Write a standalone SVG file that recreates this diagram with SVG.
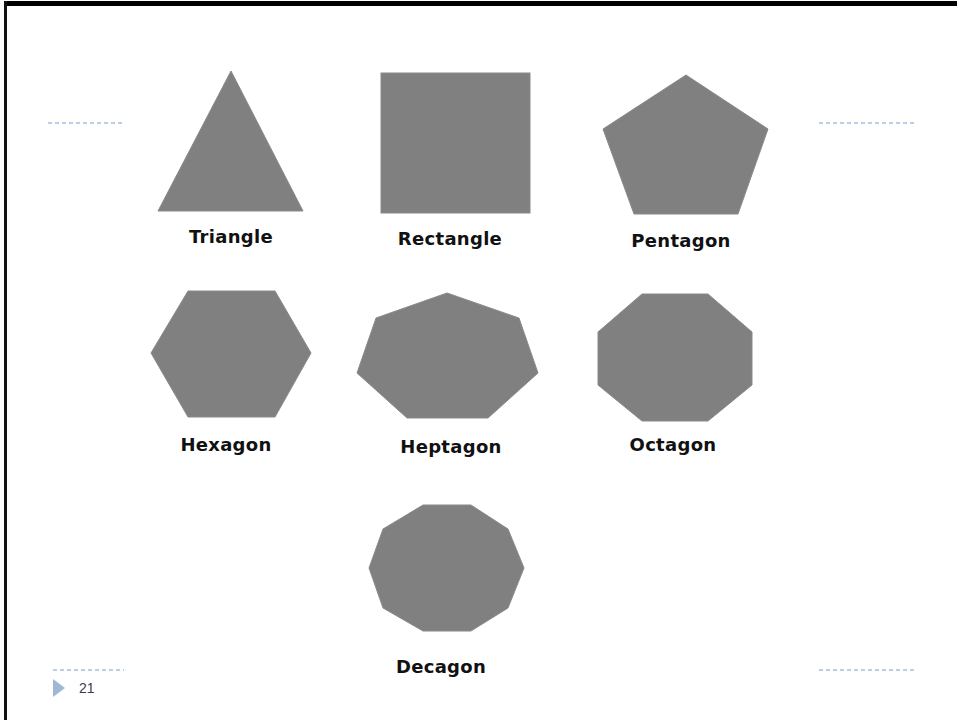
<svg xmlns="http://www.w3.org/2000/svg" width="957" height="720" viewBox="0 0 957 720">
<style>
.shape{fill:#808080;stroke:#8a8a8a;stroke-width:1}
.lbl{font-family:"DejaVu Sans",Verdana,sans-serif;font-weight:bold;font-size:18px;fill:#111;text-anchor:middle;letter-spacing:0.3px}
.dash{stroke:#a7bfd9;stroke-width:1.5;stroke-dasharray:4 3;fill:none}
</style>
<rect x="0" y="0" width="957" height="720" fill="#fff"/>
<g id="frame">
<rect x="4" y="1" width="953" height="5" fill="#000"/>
<rect x="4" y="1" width="3" height="719" fill="#111"/>
</g>
<g id="rules">
<line class="dash" x1="48" y1="123" x2="124" y2="123"/>
<line class="dash" x1="819" y1="123" x2="917" y2="123"/>
<line class="dash" x1="53" y1="670" x2="124" y2="670"/>
<line class="dash" x1="819" y1="670" x2="917" y2="670"/>
</g>
<g id="triangle">
<polygon class="shape" points="231,71 303,211 158,211"/>
<text class="lbl" x="231" y="243">Triangle</text>
</g>
<g id="rectangle">
<rect class="shape" x="381" y="73" width="149" height="140"/>
<text class="lbl" x="450" y="245">Rectangle</text>
</g>
<g id="pentagon">
<polygon class="shape" points="686,75 768,129 738,214 634,214 603,129"/>
<text class="lbl" x="681" y="247">Pentagon</text>
</g>
<g id="hexagon">
<polygon class="shape" points="188,291 275,291 311,353 275,417 188,417 151,353"/>
<text class="lbl" x="226" y="451">Hexagon</text>
</g>
<g id="heptagon">
<polygon class="shape" points="447,293 519,318 538,373 488,418 407,418 357,373 376,318"/>
<text class="lbl" x="451" y="453">Heptagon</text>
</g>
<g id="octagon">
<polygon class="shape" points="642,294 708,294 752,332 752,385 708,421 642,421 598,385 598,332"/>
<text class="lbl" x="673" y="451">Octagon</text>
</g>
<g id="decagon">
<polygon class="shape" points="423,505 471,505 508,529 524,568 508,608 471,631 423,631 383,608 369,568 383,529"/>
<text class="lbl" x="441" y="673">Decagon</text>
</g>
<g id="pagenum">
<polygon points="53,679 65,688 53,697" fill="#9fb8d3"/>
<text x="79" y="693" font-family="'Liberation Sans',Arial,sans-serif" font-size="14" fill="#3c3c4a">21</text>
</g>
</svg>
